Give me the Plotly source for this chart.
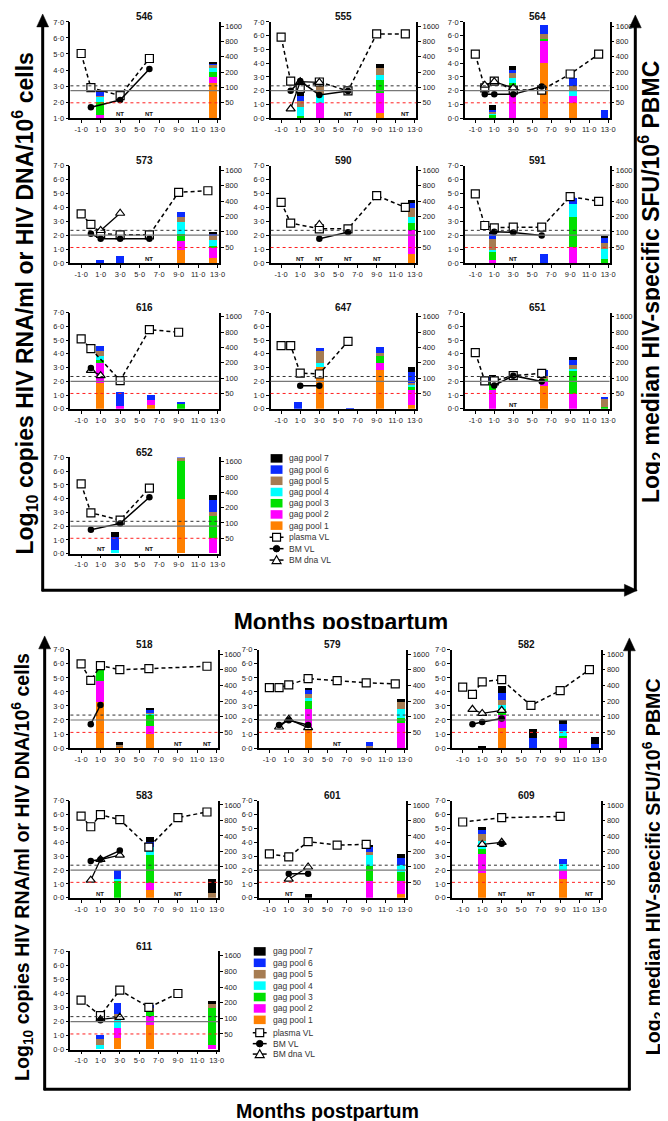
import math
import plotly.graph_objects as go

W, H = 668, 1121
FONT = "Liberation Sans, Arial, sans-serif"

# ---------------- data ----------------
SUBJECTS = ["546", "555", "564", "573", "590", "591", "616", "647", "651", "652",
            "518", "579", "582", "583", "601", "609", "611"]

POOL_NAMES = ["gag pool 1", "gag pool 2", "gag pool 3", "gag pool 4",
              "gag pool 5", "gag pool 6", "gag pool 7"]
POOL_COLORS = ["#FF8000", "#FF00FF", "#00E000", "#00FFFF", "#A67C52", "#0A2BFF", "#000000"]

X_TICKS = [-1, 1, 3, 5, 7, 9, 11, 13]
X_TICK_TEXT = ["-1·0", "1·0", "3·0", "5·0", "7·0", "9·0", "11·0", "13·0"]
VL_TICKS = [0, 1, 2, 3, 4, 5, 6, 7]
VL_TICK_TEXT = ["0·0", "1·0", "2·0", "3·0", "4·0", "5·0", "6·0", "7·0"]
SFU_TICKS = [50, 100, 200, 400, 800, 1600]
SFU_BASE = 25          # SFU at the bottom of the right axis
SFU_DOUBLING = 1.115   # axis units per doubling of SFU

# months, log10 values
PLASMA_VL = {
    "546": ([-1, 0, 3, 6], [5.03, 2.9, 2.4, 4.72]),
    "555": ([-1, 0, 1, 3, 6, 9, 12], [5.89, 2.7, 2.17, 2.63, 1.98, 6.13, 6.13]),
    "564": ([-1, 0, 1, 3, 6, 9, 12], [4.65, 2.2, 2.69, 2.04, 2.04, 3.21, 4.65]),
    "573": ([-1, 0, 1, 3, 6, 9, 12], [3.54, 2.78, 2.13, 2.03, 2.03, 5.09, 5.2]),
    "590": ([-1, 0, 3, 6, 9, 12], [4.37, 2.87, 2.46, 2.46, 4.85, 4.0]),
    "591": ([-1, 0, 1, 3, 6, 9, 12], [4.97, 2.7, 2.53, 2.58, 2.58, 4.78, 4.44]),
    "616": ([-1, 0, 3, 6, 9], [5.09, 4.37, 2.05, 5.76, 5.57]),
    "647": ([-1, 0, 1, 3, 6], [4.6, 4.6, 2.6, 2.53, 4.9]),
    "651": ([-1, 0, 1, 3, 6], [4.08, 2.03, 2.03, 2.41, 2.58]),
    "652": ([-1, 0, 3, 6], [5.08, 2.97, 2.44, 4.77]),
    "518": ([-1, 0, 1, 3, 6, 12], [6.0, 4.83, 5.87, 5.59, 5.66, 5.83]),
    "579": ([-1, 0, 1, 3, 6, 9, 12], [4.3, 4.3, 4.5, 4.95, 4.8, 4.65, 4.57]),
    "582": ([-1, 0, 1, 3, 6, 9, 12], [4.34, 3.82, 4.72, 4.88, 3.04, 4.1, 5.59]),
    "583": ([-1, 0, 1, 3, 6, 9, 12], [5.89, 5.12, 5.99, 5.63, 3.65, 5.78, 6.18]),
    "601": ([-1, 1, 3, 6, 9], [3.16, 2.95, 4.05, 3.8, 3.85]),
    "609": ([-1, 3, 9], [5.46, 5.77, 5.86]),
    "611": ([-1, 1, 3, 6, 9], [3.53, 2.42, 4.24, 3.01, 4.0]),
}

BM_VL = {
    "546": ([0, 3, 6], [1.68, 2.13, 4.06]),
    "555": ([0, 1, 3, 6], [2.0, 2.7, 1.69, 1.98]),
    "564": ([0, 1, 3, 6], [1.73, 1.73, 1.73, 2.3]),
    "573": ([0, 1, 3, 6], [2.1, 1.74, 1.74, 1.74]),
    "590": ([3, 6], [1.74, 2.22]),
    "591": ([1, 3, 6], [2.25, 2.2, 1.98]),
    "616": ([0], [2.96]),
    "647": ([1, 3], [1.67, 1.67]),
    "651": ([1, 3, 6], [1.7, 2.41, 1.98]),
    "652": ([0, 3, 6], [1.73, 2.2, 4.1]),
    "518": ([0, 1], [1.7, 3.07]),
    "579": ([0, 1, 3], [1.65, 1.98, 1.65]),
    "582": ([0, 1, 3], [1.7, 1.86, 2.1]),
    "583": ([0, 1, 3], [2.66, 2.76, 3.4]),
    "601": ([1, 3], [1.74, 1.74]),
    "609": ([3], [3.9]),
    "611": ([1], [2.1]),
}

BM_DNA_VL = {
    "555": ([0, 1, 3], [0.68, 2.65, 2.6]),
    "564": ([0, 1, 3], [2.4, 2.65, 2.2]),
    "573": ([1, 3], [2.34, 3.58]),
    "590": ([3], [2.77]),
    "616": ([0, 1], [2.8, 2.41]),
    "579": ([0, 1, 3], [1.5, 2.05, 1.46]),
    "582": ([0, 1, 3], [2.76, 2.47, 2.69]),
    "583": ([0, 1, 3], [1.27, 2.76, 3.07]),
    "601": ([1, 3], [1.34, 2.22]),
    "609": ([1, 3], [3.85, 4.0]),
    "611": ([1, 3], [2.15, 2.3]),
}

# bar months and stacked log2-SFU segments (gag pool 1..7) per bar
BAR_MONTHS = {
    "546": [1.0, 12.6],
    "555": [1.0, 3.0, 9.3],
    "564": [0.8, 2.9, 6.2, 9.3, 12.6],
    "573": [1.0, 3.0, 9.3, 12.6],
    "590": [12.6],
    "591": [0.8, 6.2, 9.3, 12.6],
    "616": [1.0, 3.0, 6.2, 9.3],
    "647": [0.7, 3.0, 6.2, 9.3, 12.6],
    "651": [0.8, 6.2, 9.3, 12.6],
    "652": [2.5, 9.3, 12.6],
    "518": [1.0, 3.0, 6.2],
    "579": [3.0, 9.3, 12.6],
    "582": [1.0, 3.0, 6.2, 9.3, 12.6],
    "583": [2.8, 6.2, 12.6],
    "601": [3.0, 9.3, 12.6],
    "609": [1.0, 9.3],
    "611": [1.0, 2.8, 6.2, 12.6],
}
GAG_POOLS = {
    "546": [[0, 0.2, 1.0, 0.35, 0.1, 0.3, 0.1],
            [2.53, 0.44, 0.36, 0.34, 0.23, 0.1, 0.05]],
    "555": [[0, 0, 0.19, 0.65, 0.42, 0.38, 0.22],
            [0, 1.13, 0, 0.56, 0.68, 0, 0.04],
            [0.36, 1.45, 0.97, 0.36, 0.55, 0, 0.22]],
    "564": [[0, 0, 0.29, 0.05, 0.14, 0.1, 0.38],
            [0, 2.33, 0.24, 0.35, 0.36, 0.24, 0.29],
            [4.05, 1.56, 0.19, 0, 0.36, 0.64, 0],
            [1.13, 0.47, 0, 0.4, 0.33, 0.59, 0],
            [0, 0, 0, 0, 0, 0.6, 0]],
    "573": [[0, 0, 0, 0, 0, 0.24, 0],
            [0, 0, 0, 0, 0, 0.53, 0],
            [0.96, 0.62, 0.52, 0.84, 0.4, 0.32, 0],
            [0.36, 0.74, 0.17, 0.4, 0.31, 0.12, 0.17]],
    "590": [[0.67, 1.72, 0.48, 0.47, 0.63, 0.4, 0.17]],
    "591": [[0, 0.24, 0.55, 0.17, 0.78, 0.36, 0.17],
            [0, 0, 0, 0, 0, 0.67, 0],
            [0, 1.19, 2.11, 0.95, 0, 0.48, 0],
            [0, 0, 0.31, 0.72, 0.4, 0.39, 0.16]],
    "616": [[1.94, 1.43, 0.19, 0.29, 0.35, 0.43, 0],
            [0, 0.25, 0, 0, 0, 1.0, 0],
            [0.3, 0.35, 0, 0, 0, 0.4, 0],
            [0, 0, 0.45, 0, 0, 0.08, 0]],
    "647": [[0, 0, 0, 0, 0, 0.55, 0],
            [3.08, 0, 0, 0.29, 0.93, 0.14, 0],
            [0, 0, 0, 0, 0, 0.12, 0],
            [2.84, 0.53, 0.5, 0, 0.22, 0.43, 0],
            [0.3, 1.07, 0.26, 0.2, 0.1, 0.77, 0.38]],
    "651": [[0, 1.39, 0.59, 0, 0.1, 0.3, 0.13],
            [1.7, 0.28, 0.24, 0, 0.2, 0.4, 0],
            [0, 1.08, 1.67, 0.19, 0.29, 0.37, 0.17],
            [0, 0, 0.19, 0, 0.6, 0.12, 0]],
    "652": [[0, 0, 0, 0.22, 0, 0.95, 0.36],
            [3.98, 0, 2.71, 0, 0.24, 0.1, 0],
            [0, 1.1, 1.63, 0, 0.29, 0.86, 0.36]],
    "518": [[3.28, 1.48, 1.3, 0.16, 0, 0, 0],
            [0.1, 0, 0, 0, 0.12, 0, 0.25],
            [0.99, 0.59, 0.82, 0.05, 0.05, 0.25, 0.08]],
    "579": [[1.34, 1.42, 0.59, 0.24, 0.24, 0.33, 0.08],
            [0, 0, 0, 0, 0.15, 0.3, 0],
            [0, 1.81, 0.36, 0.63, 0.48, 0, 0.23]],
    "582": [[0, 0, 0, 0, 0, 0, 0.16],
            [1.46, 0.9, 0.45, 0.3, 0.35, 0.47, 0.47],
            [0, 0, 0, 0, 0, 0.75, 0.59],
            [0, 0.71, 0.15, 0.4, 0, 0.45, 0.27],
            [0, 0, 0, 0, 0, 0.3, 0.52]],
    "583": [[0, 0, 1.3, 0.1, 0, 0.65, 0],
            [0.57, 0.54, 2.0, 0.59, 0, 0.35, 0.36],
            [0, 0, 0, 0, 0.4, 0, 0.99]],
    "601": [[0, 0, 0, 0, 0, 0, 0.28],
            [0, 1.27, 1.02, 0.82, 0.24, 0.4, 0.07],
            [0.28, 0.95, 0.66, 0.51, 0, 0.48, 0.3]],
    "609": [[1.85, 1.35, 0.36, 0.59, 0.48, 0.35, 0.12],
            [1.35, 0.6, 0, 0.49, 0, 0.41, 0]],
    "611": [[0, 0, 0, 0.31, 0.39, 0.31, 0],
            [0.78, 0.7, 0, 0.59, 0.45, 0.77, 0],
            [1.71, 0.64, 0.3, 0, 0.3, 0.17, 0],
            [0, 0.31, 2.65, 0, 0.24, 0, 0.23]],
}

NT_MONTHS = {
    "546": [3, 6], "555": [6, 12], "573": [6], "590": [1, 3, 6, 9],
    "591": [3], "651": [3], "652": [1, 6], "518": [9, 12], "579": [6],
    "583": [1, 9], "601": [1], "609": [3, 6, 12],
}

VL_AXIS_MIN = {"546": 1}
# reference lines on the SFU axis (axis units): dotted black, solid grey, dotted red (50 SFU)
REF_DOTTED_BLACK = 2.35
REF_SOLID_GREY = 2.0
REF_RED_SFU = 50

# ---------------- layout geometry (pixels: left, right, top, bottom) ----------------
BOX = {
    "546": (63, 213, 10, 107), "555": (265, 412, 10, 107), "564": (461, 607, 10, 107),
    "573": (63, 213, 155, 253), "590": (265, 412, 155, 253), "591": (461, 607, 155, 253),
    "616": (63, 213, 303, 400), "647": (265, 412, 303, 400), "651": (461, 607, 303, 400),
    "652": (63, 213, 449, 546),
    "518": (63, 212, 643, 742), "579": (253, 402, 643, 742), "582": (448, 598, 643, 742),
    "583": (63, 212, 795, 893), "601": (253, 402, 795, 893), "609": (448, 598, 795, 893),
    "611": (63, 212, 947, 1046),
}
X_RANGE = [-2.1, 13.15]


def px(x):
    return x / W


def py(y):
    return 1 - y / H


def sfu_pos(v):
    return SFU_DOUBLING * math.log2(v / SFU_BASE)


fig = go.Figure()
layout = {}
shapes = []
annotations = []

tickfont = dict(family=FONT, size=7.5, color="#222")
axis_common = dict(showline=True, linecolor="black", linewidth=1.5, ticks="outside",
                   ticklen=3, tickwidth=1.2, tickcolor="black", showgrid=False,
                   zeroline=False, tickfont=tickfont, fixedrange=True)

for i, sid in enumerate(SUBJECTS, start=1):
    l, r, t, b = BOX[sid]
    xa = "x" if i == 1 else f"x{i}"
    nb, nl = 2 * i - 1, 2 * i
    yb = "y" if nb == 1 else f"y{nb}"
    yl = f"y{nl}"

    # stacked bars on the SFU (right) axis
    months = BAR_MONTHS.get(sid, [])
    rows = GAG_POOLS.get(sid, [])
    for k in range(7):
        fig.add_trace(go.Bar(x=months, y=[row[k] for row in rows], width=0.8,
                             marker=dict(color=POOL_COLORS[k], line=dict(width=0)),
                             xaxis=xa, yaxis=yb, name=POOL_NAMES[k], showlegend=False))

    # viral load lines on the log10 (left) axis
    if sid in PLASMA_VL:
        mx, vy = PLASMA_VL[sid]
        fig.add_trace(go.Scatter(x=mx, y=vy, mode="lines+markers", xaxis=xa, yaxis=yl,
                                 line=dict(color="black", width=1.5, dash="4px,3px"),
                                 marker=dict(symbol="square", size=8, color="white",
                                             line=dict(color="black", width=1.2)),
                                 showlegend=False))
    if sid in BM_DNA_VL:
        mx, vy = BM_DNA_VL[sid]
        fig.add_trace(go.Scatter(x=mx, y=vy, mode="lines+markers", xaxis=xa, yaxis=yl,
                                 line=dict(color="black", width=1.3),
                                 marker=dict(symbol="triangle-up", size=8, color="white",
                                             line=dict(color="black", width=1.2)),
                                 showlegend=False))
    if sid in BM_VL:
        mx, vy = BM_VL[sid]
        fig.add_trace(go.Scatter(x=mx, y=vy, mode="lines+markers", xaxis=xa, yaxis=yl,
                                 line=dict(color="black", width=1.5),
                                 marker=dict(symbol="circle", size=6.5, color="black"),
                                 showlegend=False))

    layout[f"xaxis{i}"] = dict(axis_common, domain=[px(l), px(r)], anchor=yb,
                               range=X_RANGE, tickvals=X_TICKS, ticktext=X_TICK_TEXT)
    layout[f"yaxis{nb}"] = dict(axis_common, domain=[py(b), py(t)], anchor=xa, side="right",
                                range=[0, 7], tickvals=[sfu_pos(v) for v in SFU_TICKS],
                                ticktext=[str(v) for v in SFU_TICKS])
    vmin = VL_AXIS_MIN.get(sid, 0)
    layout[f"yaxis{nl}"] = dict(axis_common, anchor=xa, overlaying=yb, side="left",
                                range=[vmin, 7],
                                tickvals=[v for v in VL_TICKS if v >= vmin],
                                ticktext=[tx for v, tx in zip(VL_TICKS, VL_TICK_TEXT) if v >= vmin])

    dom = f"{xa} domain"
    shapes.append(dict(type="line", xref=dom, yref=yb, x0=0, x1=1,
                       y0=REF_SOLID_GREY, y1=REF_SOLID_GREY,
                       line=dict(color="#777", width=1.2), layer="above"))
    shapes.append(dict(type="line", xref=dom, yref=yb, x0=0, x1=1,
                       y0=REF_DOTTED_BLACK, y1=REF_DOTTED_BLACK,
                       line=dict(color="#333", width=1, dash="dot"), layer="above"))
    shapes.append(dict(type="line", xref=dom, yref=yb, x0=0, x1=1,
                       y0=sfu_pos(REF_RED_SFU), y1=sfu_pos(REF_RED_SFU),
                       line=dict(color="#FF2020", width=1, dash="dot"), layer="above"))

    annotations.append(dict(text=f"<b>{sid}</b>", x=px((l + r) / 2), y=py(t - 5),
                            xref="paper", yref="paper", showarrow=False,
                            font=dict(family=FONT, size=10, color="#111"),
                            xanchor="center", yanchor="middle"))
    for m in NT_MONTHS.get(sid, []):
        annotations.append(dict(text="<b>NT</b>", x=m, y=0.3, xref=xa, yref=yb,
                                showarrow=False, font=dict(family=FONT, size=6, color="#111"),
                                xanchor="center", yanchor="middle"))


# ---------------- panel frames (arrows) ----------------
def seg(p0, p1, width=3):
    shapes.append(dict(type="line", xref="paper", yref="paper",
                       x0=px(p0[0]), y0=py(p0[1]), x1=px(p1[0]), y1=py(p1[1]),
                       line=dict(color="black", width=width)))


def arrow(tail, tip, head_len=13, head_half=6):
    dx, dy = tip[0] - tail[0], tip[1] - tail[1]
    n = math.hypot(dx, dy)
    ux, uy = dx / n, dy / n
    bx, by = tip[0] - ux * head_len, tip[1] - uy * head_len
    seg(tail, (bx + ux * 2, by + uy * 2))
    pts = [tip, (bx - uy * head_half, by + ux * head_half), (bx + uy * head_half, by - ux * head_half)]
    path = "M " + " L ".join(f"{px(a)},{py(c)}" for a, c in pts) + " Z"
    shapes.append(dict(type="path", xref="paper", yref="paper", path=path,
                       fillcolor="black", line=dict(color="black", width=0.5)))


arrow((35, 584), (35, 2))
arrow((34, 583), (635, 583))
arrow((633, 584), (633, 3))
arrow((37, 1087), (37, 629))
arrow((627, 1087), (627, 631))
seg((36, 1086), (628, 1086))

# big axis labels
LEFT_LABEL = "<b>Log<sub>10</sub> copies HIV RNA/ml or HIV DNA/10<sup>6</sup> cells</b>"
RIGHT_LABEL = "<b>Log<sub>2</sub> median HIV-specific SFU/10<sup>6</sup> PBMC</b>"
X_LABEL = "<b>Months postpartum</b>"


def label(text, x, y, size, angle=0):
    annotations.append(dict(text=text, x=px(x), y=py(y), xref="paper", yref="paper",
                            showarrow=False, textangle=angle, xanchor="center",
                            yanchor="middle", font=dict(family=FONT, size=size, color="black")))


label(LEFT_LABEL, 16, 294, 23, -90)
label(RIGHT_LABEL, 648, 272, 23, -90)
label(LEFT_LABEL, 14, 862, 19.6, -90)
label(RIGHT_LABEL, 651, 862, 19.6, -90)
label(X_LABEL, 322, 1108, 19.6)

# upper panel x label: its lower edge is cut off in the source figure, so it is drawn
# as text clipped by an invisible pixel-scaled axis whose bottom lies at y = 622 px
n_ax = len(SUBJECTS) + 1
clip_x, clip_y = f"x{n_ax}", f"y{2 * n_ax - 1}"
fig.add_trace(go.Scatter(x=[336], y=[617.5], mode="text", text=[X_LABEL],
                         textposition="middle center", cliponaxis=True,
                         textfont=dict(family=FONT, size=23, color="black"),
                         xaxis=clip_x, yaxis=clip_y, showlegend=False, hoverinfo="skip"))
layout[f"xaxis{n_ax}"] = dict(domain=[0, 1], range=[0, W], visible=False,
                              anchor=clip_y, fixedrange=True)
layout[f"yaxis{2 * n_ax - 1}"] = dict(domain=[py(622), py(595)], range=[622, 595],
                                      visible=False, anchor=clip_x, fixedrange=True)


# ---------------- legends ----------------
def legend(x0, y_pools, y_marks):
    for k in range(7):
        yc = y_pools[6 - k]
        shapes.append(dict(type="rect", xref="paper", yref="paper",
                           x0=px(x0), x1=px(x0 + 12), y0=py(yc + 4.3), y1=py(yc - 4.3),
                           fillcolor=POOL_COLORS[k], line=dict(width=0)))
        annotations.append(dict(text=POOL_NAMES[k], x=px(x0 + 17), y=py(yc), xref="paper",
                                yref="paper", showarrow=False, xanchor="left", yanchor="middle",
                                font=dict(family=FONT, size=8.5, color="#333")))
    names = ["plasma VL", "BM VL", "BM dna VL"]
    cx = x0 + 6
    for j, yc in enumerate(y_marks):
        shapes.append(dict(type="line", xref="paper", yref="paper", x0=px(x0 - 1),
                           x1=px(x0 + 13), y0=py(yc), y1=py(yc),
                           line=dict(color="black", width=1.5)))
        if j == 0:
            shapes.append(dict(type="rect", xref="paper", yref="paper", x0=px(cx - 4),
                               x1=px(cx + 4), y0=py(yc + 4), y1=py(yc - 4),
                               fillcolor="white", line=dict(color="black", width=1.2)))
        elif j == 1:
            shapes.append(dict(type="circle", xref="paper", yref="paper", x0=px(cx - 3.3),
                               x1=px(cx + 3.3), y0=py(yc + 3.3), y1=py(yc - 3.3),
                               fillcolor="black", line=dict(color="black", width=1)))
        else:
            path = (f"M {px(cx - 4.5)},{py(yc + 3.5)} L {px(cx + 4.5)},{py(yc + 3.5)} "
                    f"L {px(cx)},{py(yc - 4.5)} Z")
            shapes.append(dict(type="path", xref="paper", yref="paper", path=path,
                               fillcolor="white", line=dict(color="black", width=1.2)))
        annotations.append(dict(text=names[j], x=px(x0 + 17), y=py(yc), xref="paper",
                                yref="paper", showarrow=False, xanchor="left", yanchor="middle",
                                font=dict(family=FONT, size=8.5, color="#333")))


legend(265, [450, 461.3, 472.6, 483.9, 495.2, 506.5, 517.8], [529.5, 541, 552.5])
legend(248, [947, 958.5, 970, 981.5, 993, 1004.5, 1016], [1029, 1040, 1050.5])

fig.update_layout(
    width=W, height=H, margin=dict(l=0, r=0, t=0, b=0),
    paper_bgcolor="white", plot_bgcolor="rgba(0,0,0,0)",
    barmode="stack", bargap=0, showlegend=False,
    font=dict(family=FONT, color="#222"),
    shapes=shapes, annotations=annotations, **layout,
)

fig.write_html("out.html")
